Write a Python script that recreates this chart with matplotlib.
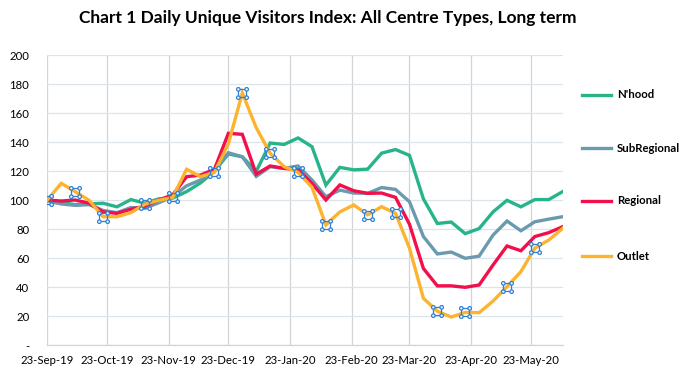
import matplotlib
matplotlib.use("Agg")
import matplotlib.pyplot as plt
import matplotlib.dates as mdates
from matplotlib.path import Path
from matplotlib.lines import Line2D
import numpy as np
import pandas as pd

plt.rcParams['font.family'] = ['Lato', 'DejaVu Sans']

dates = pd.date_range('2019-09-23', periods=38, freq='7D')

nhood = [100, 98.5, 97, 97.5, 98, 95.5, 100.5, 98, 101, 101.5,
         106, 112, 120, 132, 130, 120, 139.5, 138.5, 143, 137,
         110.5, 122.7, 121, 121.5, 132.5, 135, 131, 101, 84, 85,
         77, 80.5, 92, 100, 95.5, 100.5, 100.5, 106]
subregional = [99.5, 97.5, 96.5, 97, 93, 91.5, 95, 94.5, 98.3, 102.5,
               110, 114, 121, 132.8, 130, 116.5, 123.2, 122, 123.7, 114,
               102.5, 107, 105, 104.8, 108.8, 107.5, 99, 75, 63, 64.3,
               60, 61.5, 76, 85.7, 79, 85.2, 87, 88.7]
regional = [100.2, 99.5, 100.2, 98, 92, 91, 93.8, 96, 100.2, 103.7,
            116.3, 117.4, 121.4, 146.2, 145.5, 118, 123.7, 122, 121, 111.7,
            100.2, 110.6, 106.6, 104.8, 105, 102, 83.5, 53, 41, 41,
            40, 41.6, 55.4, 68.5, 65.2, 75, 77.7, 81.8]
outlet = [100.2, 111.7, 106, 100, 88.7, 88.7, 91.5, 97.2, 100, 102,
          121.4, 116.3, 119.3, 139, 174, 150, 132.4, 123.2, 119.3, 109,
          83, 92, 96.8, 90, 95.6, 91, 67, 32.4, 23.5, 19.5,
          22.7, 22.5, 30.5, 40.4, 50.8, 67, 72.6, 80.7]
marker_idx = [0, 2, 4, 7, 9, 12, 14, 16, 18, 20, 23, 25, 28, 30, 33, 35]

series_names = ["N'hood", "SubRegional", "Regional", "Outlet"]
series_vals = [nhood, subregional, regional, outlet]
colors = ['#27B48A', '#6A9AB0', '#F20F4B', '#FDB32E']

yticks = [0, 20, 40, 60, 80, 100, 120, 140, 160, 180, 200]
ytick_labels = ['-', '20', '40', '60', '80', '100', '120', '140', '160', '180', '200']
xtick_dates = pd.to_datetime(['2019-09-23', '2019-10-23', '2019-11-23', '2019-12-23',
                              '2020-01-23', '2020-02-23', '2020-03-23', '2020-04-23',
                              '2020-05-23'])

W, H = 688, 377
fig = plt.figure(figsize=(W / 100, H / 100), dpi=100)
left, right, top, bottom = 47.3, 562.7, 55.3, 345.3
ax = fig.add_axes([left / W, 1 - bottom / H, (right - left) / W, (bottom - top) / H])

for name, vals, c in zip(series_names, series_vals, colors):
    ax.plot(dates, vals, color=c, lw=2.4, solid_joinstyle='miter', zorder=3)

# marker shapes (selection-handle style)
sq = Path([(-1, -1), (1, -1), (1, 1), (-1, 1), (-1, -1)],
          [Path.MOVETO, Path.LINETO, Path.LINETO, Path.LINETO, Path.CLOSEPOLY])
r = 0.42
circ = Path.make_compound_path(*[
    Path(Path.circle((cx, cy), r).vertices, Path.circle((cx, cy), r).codes)
    for cx, cy in [(-1, -1), (1, -1), (1, 1), (-1, 1)]])
md = [dates[i] for i in marker_idx]
mv = [outlet[i] for i in marker_idx]
mcol = '#2C7FD6'
ax.plot(md, mv, ls='none', marker=sq, markersize=6.0, markerfacecolor='none',
        markeredgecolor=mcol, markeredgewidth=0.9, zorder=4)
ax.plot(md, mv, ls='none', marker=circ, markersize=6.0 * (1 + r),
        markerfacecolor='white', markeredgecolor=mcol, markeredgewidth=0.9, zorder=5)

ax.set_xlim(dates[0], dates[-1])
ax.set_ylim(0, 200)
ax.set_yticks(yticks)
ax.set_yticklabels(ytick_labels)
ax.set_xticks(xtick_dates)
ax.xaxis.set_major_formatter(mdates.DateFormatter('%d-%b-%y'))
ax.tick_params(axis='both', length=0, labelsize=8.2, colors='black')
ax.tick_params(axis='y', pad=13)
ax.tick_params(axis='x', pad=7)

ax.grid(axis='y', color='#DCE4EA', lw=0.9, zorder=0)
ax.grid(axis='x', color='#D2D4D6', lw=0.9, zorder=0)
for s in ['top', 'right', 'left']:
    ax.spines[s].set_visible(False)
ax.spines['bottom'].set_color('#D2D4D6')
ax.spines['bottom'].set_linewidth(0.9)
ax.set_axisbelow(True)

fig.text(327.5 / W, 1 - 18 / H, 'Chart 1 Daily Unique Visitors Index: All Centre Types, Long term',
         ha='center', va='center', fontsize=12.5, fontweight='bold')

# legend on the right
leg_y = [95, 148, 201, 256]
for name, c, yy in zip(series_names, colors, leg_y):
    fig.add_artist(Line2D([582 / W, 611 / W], [1 - yy / H, 1 - yy / H], color=c, lw=2.4,
                          transform=fig.transFigure))
    fig.text(617 / W, 1 - yy / H, name, ha='left', va='center', fontsize=8.2,
             fontweight='bold')

fig.savefig('out.png', dpi=100)
